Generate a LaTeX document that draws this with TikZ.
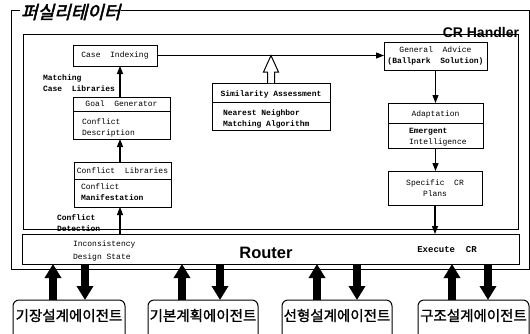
\documentclass[tikz,border=0pt]{standalone}
\usepackage{fontspec}
\setmainfont{Liberation Sans}
\newfontfamily\mono{Liberation Mono}
\newfontfamily\kr[FakeBold=1.2]{Noto Sans CJK KR}
\newfontfamily\krtitle[FakeSlant=0.25,FakeBold=2.5]{Noto Sans CJK KR}
\usetikzlibrary{arrows.meta,calc}
\begin{document}
\begin{tikzpicture}[x=1pt,y=-1pt,
  every node/.style={inner sep=0pt, outer sep=0pt},
  box/.style={draw, line width=1pt, anchor=north west, align=center, font=\mono\fontsize{8}{11}\selectfont},
  txt/.style={font=\mono\fontsize{8}{11}\selectfont, align=left},
  btxt/.style={font=\mono\bfseries\fontsize{8}{11}\selectfont, align=left},
  frame/.style={draw, line width=1pt},
  arr/.style={line width=1.2pt, -{Triangle[width=6pt,length=8pt]}},
  big/.style={line width=8pt, -{Triangle[width=16pt,length=14pt]}},
  agent/.style={draw, line width=1pt, rounded corners=6pt, anchor=north west,
    font=\kr\fontsize{14.5}{15}\selectfont, text height=21pt, text depth=30pt},
  divider/.style={line width=1pt}
]
\useasboundingbox (0,0) rectangle (530,333);

% frames
\draw[frame] (11,10) rectangle (529,269);
\draw[frame] (23,34) rectangle (518,229);
\node[font=\krtitle\fontsize{18}{18}\selectfont, fill=white, inner sep=1pt, anchor=west] (title) at (20,12) {퍼실리테이터};
\node[font=\bfseries\fontsize{14}{14}\selectfont, anchor=base east] (crh) at (519,37) {CR Handler};

% boxes
\node[box, minimum width=84, minimum height=21] (ci) at (73,45) {Case~~Indexing};
\node[box, minimum width=103, minimum height=28] (ga) at (384,42) {General~~Advice\\\bfseries(Ballpark~~Solution)};
\node[box, minimum width=97, minimum height=42] (gg) at (73,97) {};
\draw[divider] (gg.west |- 0,111) -- (gg.east |- 0,111);
\node[txt, anchor=center] (ggt) at (121.5,104) {Goal~~Generator};
\node[txt, anchor=north west] (ggb) at (82,119) {Conflict\\Description};

\node[box, minimum width=97, minimum height=45] (cl) at (74,162) {};
\draw[divider] (cl.west |- 0,179) -- (cl.east |- 0,179);
\node[txt, anchor=center] (clt) at (122.5,170.5) {Conflict~~Libraries};
\node[txt, anchor=north west] (clb) at (81,184) {Conflict\\\bfseries Manifestation};

\node[box, minimum width=118, minimum height=47] (sim) at (212,83) {};
\draw[divider] (sim.west |- 0,102) -- (sim.east |- 0,102);
\node[btxt, anchor=center] (simt) at (271,94) {Similarity~Assessment};
\node[btxt, anchor=north west] (simb) at (223,110) {Nearest~Neighbor\\Matching~Algorithm};

\node[box, minimum width=95, minimum height=45] (ad) at (388,103) {};
\draw[divider] (ad.west |- 0,123) -- (ad.east |- 0,123);
\node[txt, anchor=center] (adt) at (435.5,114) {Adaptation};
\node[txt, anchor=north west] (adb) at (409,128) {{\bfseries Emergent}\\Intelligence};

\node[box, minimum width=94, minimum height=34] (scp) at (388,171) {Specific~~CR\\Plans};

\node[box, minimum width=497, minimum height=30] (router) at (22,234) {};
\node[font=\bfseries\fontsize{16.5}{17}\selectfont, anchor=base] (rt) at (266,258) {Router};
\node[txt, anchor=north west] (inc) at (73,241) {Inconsistency\\[2pt]Design~State};
\node[btxt, font=\mono\bfseries\fontsize{9}{11}\selectfont, anchor=center] (ex) at (447,250) {Execute~~CR};

% labels
\node[btxt, anchor=north west] (lm) at (43,75) {Matching\\Case~~Libraries};
\node[btxt, anchor=north west] (ld) at (57,215) {Conflict\\Detection};

% agents
\node[agent, minimum width=112] (a1) at (13,300) {기장설계에이전트};
\node[agent, minimum width=110] (a2) at (148,300) {기본계획에이전트};
\node[agent, minimum width=110] (a3) at (282,300) {선형설계에이전트};
\node[agent, minimum width=111] (a4) at (418,300) {구조설계에이전트};

% thin arrows
\coordinate (xa) at (120,0);
\draw[arr] (ci.east) -- (ci.east -| ga.west);
\draw[arr] (gg.north -| xa) -- (ci.south -| xa);
\draw[arr] (cl.north -| xa) -- (gg.south -| xa);
\draw[arr] (router.north -| xa) -- (cl.south -| xa);
\draw[arr] (ga.south) -- (ad.north);
\draw[arr] (ad.south) -- (ad.south |- scp.north);
\draw[arr] (scp.south) -- (scp.south |- router.north);

% hollow arrow
\draw[line width=1pt, fill=white] ($(sim.north)+(-3.5,0)$) -- ($(sim.north)+(-3.5,-11)$) -- ($(sim.north)+(-7.5,-11)$) -- (sim.north |- ci.east) -- ($(sim.north)+(7.5,-11)$) -- ($(sim.north)+(3.5,-11)$) -- ($(sim.north)+(3.5,0)$);

% big arrows
\coordinate (u1) at (53,0);  \coordinate (d1) at (85,0);
\coordinate (u2) at (182,0); \coordinate (d2) at (220,0);
\coordinate (u3) at (317,0); \coordinate (d3) at (357,0);
\coordinate (u4) at (452,0); \coordinate (d4) at (488,0);
\draw[big] (a1.north -| u1) -- (router.south -| u1);
\draw[big] (router.south -| d1) -- (a1.north -| d1);
\draw[big] (a2.north -| u2) -- (router.south -| u2);
\draw[big] (router.south -| d2) -- (a2.north -| d2);
\draw[big] (a3.north -| u3) -- (router.south -| u3);
\draw[big] (router.south -| d3) -- (a3.north -| d3);
\draw[big] (a4.north -| u4) -- (router.south -| u4);
\draw[big] (router.south -| d4) -- (a4.north -| d4);
\end{tikzpicture}
\end{document}
